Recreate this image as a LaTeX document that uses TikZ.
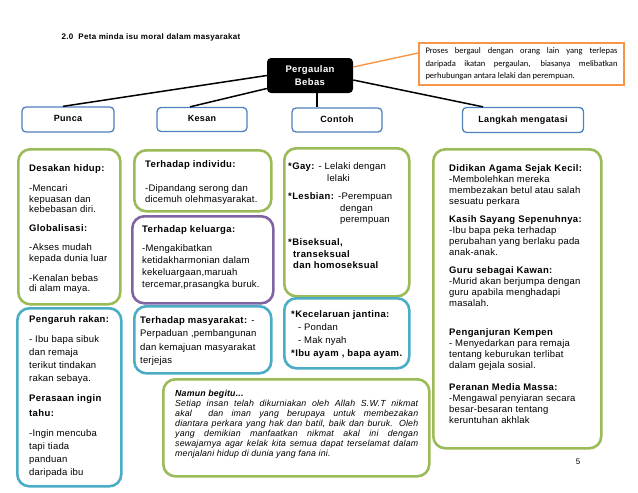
\documentclass[tikz,border=0pt]{standalone}
\usepackage{fontspec}
\setmainfont{Liberation Sans}[LetterSpace=2, BoldFeatures={LetterSpace=4}]
\newfontfamily\notefont{Carlito}
\usetikzlibrary{calc}

\definecolor{mapgreen}{HTML}{9BBB59}
\definecolor{mapblue}{HTML}{4BACC6}
\definecolor{mappurple}{HTML}{8064A2}
\definecolor{headblue}{HTML}{4F81BD}
\definecolor{noteorange}{HTML}{F79646}

\tikzset{
  headbox/.style={draw=headblue, line width=1.3pt, rounded corners=4pt, fill=white,
    font=\bfseries\fontsize{9}{11}\selectfont, inner sep=0pt},
  infobox/.style={rounded corners=12pt, line width=2.6pt, fill=white,
    anchor=north west, inner sep=0pt},
  infotext/.style={anchor=north west, align=left, inner sep=0pt},
  link/.style={line width=1.5pt, black}
}

\begin{document}
\begin{tikzpicture}[x=1pt,y=-1pt]
\useasboundingbox (0,0) rectangle (638,493);

% title
\node (title) at (58,39) [anchor=base west, font=\bfseries\fontsize{8}{10}\selectfont] {2.0\ \ Peta minda isu moral dalam masyarakat};

% centre and note
\node (PB) at (310,75.5) [fill=black, rounded corners=4pt, minimum width=86, minimum height=35, inner sep=0pt,
  text=white, align=center, font=\bfseries\fontsize{9.5}{13}\selectfont] {Pergaulan\\Bebas};
\node (Note) at (521.5,64) [draw=noteorange, line width=1.4pt, minimum width=205, minimum height=42, inner sep=0pt,
  text width=192, align=justify, font=\notefont\fontsize{8.5}{12.5}\selectfont]
  {Proses bergaul dengan orang lain yang terlepas\linebreak daripada ikatan pergaulan, biasanya melibatkan\linebreak perhubungan antara lelaki dan perempuan.};

% main branches
\node (Punca) at (68,119.5) [headbox, minimum width=92, minimum height=25, text height=8, text depth=4] {Punca};
\node (Kesan) at (202,119.5) [headbox, minimum width=90, minimum height=24, text height=8, text depth=4] {Kesan};
\node (Contoh) at (337,120) [headbox, minimum width=90, minimum height=24, text height=8, text depth=4] {Contoh};
\node (Langkah) at (523,120) [headbox, minimum width=121, minimum height=25, text height=8, text depth=4] {Langkah mengatasi};

\draw [link] (PB.west) -- ([xshift=-5]Punca.north);
\draw [link] ([yshift=-13]PB.west) -- ([xshift=-12]Kesan.north);
\draw [link] ([xshift=7]PB.south) -- ([xshift=7]PB.south |- Contoh.north);
\draw [link] ([yshift=-4.5]PB.east) -- ([xshift=-40]Langkah.north);
\draw [line width=1.4pt, noteorange] ([yshift=8.5]PB.east) -- ([yshift=11]Note.west);

% Punca
\node (PuncaA) at (17,148) [infobox, draw=mapgreen, minimum width=102, minimum height=155] {};
\node (PuncaB) at (16,307) [infobox, draw=mapblue, minimum width=104, minimum height=178] {};
\node (PuncaAtxt) at (29,164.5) [infotext, font=\fontsize{9.5}{10.5}\selectfont]
  {\textbf{Desakan hidup:}\\[9.5pt]-Mencari\\kepuasan dan\\kebebasan diri.\\[8.5pt]
   \textbf{Globalisasi:}\\[8.5pt]-Akses mudah\\kepada dunia luar\\[9.5pt]-Kenalan bebas\\di alam maya.};
\node (PuncaBtxt) at (29,315) [infotext, font=\fontsize{9.5}{13}\selectfont]
  {\textbf{Pengaruh rakan:}\\[7pt]- Ibu bapa sibuk\\dan remaja\\terikut tindakan\\rakan sebaya.\\[7pt]
   \textbf{Perasaan ingin}\\[2pt]\textbf{tahu:}\\[7pt]-Ingin mencuba\\tapi tiada\\panduan\\daripada ibu};

% Kesan
\node (KesanA) at (133,149) [infobox, draw=mapgreen, minimum width=137, minimum height=61] {};
\node (KesanB) at (131,215) [infobox, draw=mappurple, minimum width=141, minimum height=87] {};
\node (KesanC) at (133,305) [infobox, draw=mapblue, minimum width=137, minimum height=67] {};
\node (KesanAtxt) at (145,160.5) [infotext, font=\fontsize{9.5}{11}\selectfont]
  {\textbf{Terhadap individu:}\\[13pt]-Dipandang serong dan\\dicemuh olehmasyarakat.};
\node (KesanBtxt) at (142,225) [infotext, font=\fontsize{9.5}{12}\selectfont]
  {\textbf{Terhadap keluarga:}\\[7pt]-Mengakibatkan\\ketidakharmonian dalam\\kekeluargaan,maruah\\tercemar,prasangka buruk.};
\node (KesanCtxt) at (140,316) [infotext, font=\fontsize{9.5}{13.5}\selectfont]
  {\textbf{Terhadap masyarakat:} -\\Perpaduan ,pembangunan\\dan kemajuan masyarakat\\terjejas};

% Contoh
\node (ContohA) at (283,147) [infobox, draw=mapgreen, minimum width=125, minimum height=148] {};
\node (ContohB) at (283,297) [infobox, draw=mapblue, minimum width=125, minimum height=70] {};
\node (ContohAtxt) at (288,162.5) [infotext, font=\fontsize{9.5}{12}\selectfont]
  {\textbf{*Gay:} - Lelaki dengan\\\hspace*{39pt}lelaki\\[6pt]
   \textbf{*Lesbian:} -Perempuan\\\hspace*{52pt}dengan\\[-1pt]\hspace*{52pt}perempuan\\[11pt]
   \textbf{*Biseksual,}\\\hspace*{5pt}\textbf{transeksual}\\[-1pt]\hspace*{5pt}\textbf{dan homoseksual}};
\node (ContohBtxt) at (291,310) [infotext, font=\fontsize{9.5}{13}\selectfont]
  {\textbf{*Kecelaruan jantina:}\\\hspace*{7pt}- Pondan\\\hspace*{7pt}- Mak nyah\\\textbf{*Ibu ayam , bapa ayam.}};

% Langkah mengatasi
\node (LangkahA) at (432,148) [infobox, draw=mapgreen, minimum width=168, minimum height=299] {};
\node (LangkahAtxt) at (449,164) [infotext, font=\fontsize{9.5}{11}\selectfont]
  {\textbf{Didikan Agama Sejak Kecil:}\\-Membolehkan mereka\\membezakan betul atau salah\\sesuatu perkara\\[7pt]
   \textbf{Kasih Sayang Sepenuhnya:}\\-Ibu bapa peka terhadap\\perubahan yang berlaku pada\\anak-anak.\\[7pt]
   \textbf{Guru sebagai Kawan:}\\-Murid akan berjumpa dengan\\guru apabila menghadapi\\masalah.\\[18pt]
   \textbf{Penganjuran Kempen}\\- Menyedarkan para remaja\\tentang keburukan terlibat\\dalam gejala sosial.\\[11pt]
   \textbf{Peranan Media Massa:}\\-Mengawal penyiaran secara\\besar-besaran tentang\\keruntuhan akhlak};

% Namun begitu
\node (Namun) at (162,378) [infobox, draw=mapgreen, minimum width=266, minimum height=97] {};
\node (Namuntxt) at (175,389.5) [infotext, text width=243, align=justify, font=\itshape\fontsize{8.8}{10}\selectfont]
  {\textbf{Namun begitu...}\par
   Setiap insan telah dikurniakan oleh Allah S.W.T nikmat\linebreak
   akal\ \ dan iman yang berupaya untuk membezakan\linebreak
   diantara perkara yang hak dan batil, baik dan buruk. Oleh\linebreak
   yang demikian manfaatkan nikmat akal ini dengan\linebreak
   sewajarnya agar kelak kita semua dapat terselamat dalam\linebreak
   menjalani hidup di dunia yang fana ini.};

\node (page) at (578,462) [font=\fontsize{8}{10}\selectfont] {5};
\end{tikzpicture}
\end{document}
